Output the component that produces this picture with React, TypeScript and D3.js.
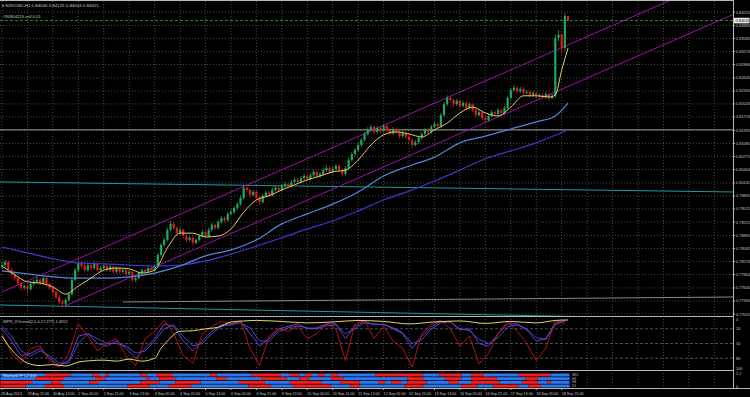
import React from 'react';
import * as d3 from 'd3';

// NZDUSD H1 chart (MetaTrader look), candles drawn as 2-hour bars
const W = 750;
const H = 397;
const AXIS_X = 733;

const firstOpen = 0.7815;
const closes = [
  0.7819, 0.7826, 0.7807, 0.7798, 0.7788, 0.7776, 0.7765, 0.7769, 0.7762, 0.7774,
  0.7779, 0.7784, 0.7776, 0.7788, 0.7774, 0.7765, 0.7755, 0.7743, 0.7731, 0.7727,
  0.7736, 0.775, 0.7784, 0.7807, 0.7824, 0.7817, 0.7807, 0.7819, 0.7812, 0.7822,
  0.7807, 0.7812, 0.7817, 0.7807, 0.7815, 0.7803, 0.7812, 0.7803, 0.7807, 0.7798,
  0.7803, 0.7784, 0.7788, 0.78, 0.7807, 0.7803, 0.7812, 0.7807, 0.7817, 0.7843,
  0.7867, 0.7879, 0.7903, 0.7917, 0.7907, 0.7895, 0.7903, 0.7888, 0.7879, 0.7884,
  0.7872, 0.7879, 0.7888, 0.7898, 0.7888, 0.7903, 0.7915, 0.7907, 0.7922, 0.7931,
  0.7926, 0.7941, 0.7945, 0.7955, 0.7964, 0.7979, 0.8003, 0.7998, 0.7986, 0.7993,
  0.7979, 0.7969, 0.7984, 0.7991, 0.7986, 0.7998, 0.8003, 0.7998, 0.8007, 0.8012,
  0.8007, 0.8017, 0.8022, 0.8017, 0.8026, 0.8031, 0.8024, 0.8033, 0.8041, 0.8031,
  0.8036, 0.8045, 0.805, 0.8041, 0.8048, 0.8055, 0.8045, 0.8036, 0.805, 0.8069,
  0.8083, 0.8093, 0.8105, 0.8117, 0.8131, 0.8141, 0.8148, 0.8136, 0.8145, 0.8138,
  0.815, 0.8141, 0.8133, 0.8143, 0.8136, 0.8126, 0.8133, 0.8124, 0.8117, 0.8105,
  0.8112, 0.8122, 0.8131, 0.8141, 0.8136, 0.8148, 0.8155, 0.815, 0.8176, 0.8202,
  0.8217, 0.8212, 0.8202, 0.821, 0.8198, 0.8205, 0.8193, 0.8202, 0.8188, 0.8176,
  0.8183, 0.8169, 0.8164, 0.8174, 0.8183, 0.8179, 0.8188, 0.8181, 0.8193, 0.8217,
  0.8236, 0.8241, 0.8233, 0.8238, 0.8229, 0.8231, 0.8224, 0.8229, 0.8222, 0.8224,
  0.8219, 0.8226, 0.8217, 0.8222, 0.836, 0.8367, 0.8336, 0.8412, 0.8402,
];
const highs = [
  0.7826, 0.7831, 0.7829, 0.7812, 0.7803, 0.7792, 0.778, 0.7774, 0.7772, 0.7779,
  0.7784, 0.779, 0.7788, 0.7793, 0.7791, 0.7778, 0.7769, 0.776, 0.7747, 0.7736,
  0.7741, 0.7755, 0.7789, 0.7812, 0.783, 0.7829, 0.7821, 0.7824, 0.7823, 0.7828,
  0.7825, 0.7817, 0.7822, 0.782, 0.7819, 0.7818, 0.7816, 0.7815, 0.7812, 0.781,
  0.7808, 0.7806, 0.7794, 0.7804, 0.7811, 0.7811, 0.7816, 0.7815, 0.7821, 0.7848,
  0.7872, 0.7885, 0.7908, 0.7924, 0.7921, 0.7911, 0.7908, 0.7906, 0.7892, 0.7889,
  0.7887, 0.7883, 0.7893, 0.7903, 0.7901, 0.7908, 0.792, 0.7918, 0.7927, 0.7936,
  0.7935, 0.7946, 0.7951, 0.796, 0.7969, 0.7985, 0.801, 0.8008, 0.8001, 0.7998,
  0.7996, 0.7983, 0.7988, 0.7996, 0.7995, 0.8003, 0.8008, 0.8007, 0.8012, 0.8017,
  0.8016, 0.8022, 0.8028, 0.8026, 0.8031, 0.8036, 0.8035, 0.8038, 0.8046, 0.8044,
  0.8041, 0.805, 0.8056, 0.8054, 0.8053, 0.806, 0.8058, 0.8049, 0.8055, 0.8074,
  0.8088, 0.8098, 0.8111, 0.8122, 0.8136, 0.8147, 0.8154, 0.8152, 0.815, 0.8149,
  0.8155, 0.8154, 0.8145, 0.8148, 0.8147, 0.814, 0.8138, 0.8137, 0.8128, 0.8121,
  0.8117, 0.8127, 0.8136, 0.8146, 0.8145, 0.8153, 0.816, 0.8159, 0.8181, 0.8208,
  0.8223, 0.8221, 0.8216, 0.8215, 0.8213, 0.821, 0.8208, 0.8207, 0.8205, 0.8192,
  0.8188, 0.8186, 0.8173, 0.8179, 0.8188, 0.8187, 0.8193, 0.8192, 0.8198, 0.8222,
  0.8241, 0.8247, 0.8245, 0.8243, 0.8242, 0.8236, 0.8235, 0.8234, 0.8233, 0.8229,
  0.8228, 0.8231, 0.823, 0.8227, 0.8368, 0.8378, 0.8372, 0.8418, 0.8413,
];
const lows = [
  0.781, 0.7814, 0.7801, 0.7793, 0.7781, 0.7771, 0.7758, 0.776, 0.7755, 0.7758,
  0.7769, 0.7775, 0.7771, 0.7772, 0.7768, 0.776, 0.7749, 0.7738, 0.7725, 0.7719,
  0.7722, 0.7732, 0.7746, 0.778, 0.7802, 0.7811, 0.7801, 0.7803, 0.7806, 0.7808,
  0.7802, 0.7802, 0.7808, 0.7803, 0.7803, 0.7798, 0.7799, 0.7797, 0.7799, 0.7792,
  0.7794, 0.7778, 0.7779, 0.7785, 0.7796, 0.7798, 0.78, 0.7803, 0.7804, 0.7814,
  0.7839, 0.7862, 0.7875, 0.7899, 0.7902, 0.789, 0.7891, 0.7883, 0.7873, 0.7875,
  0.7866, 0.7868, 0.7875, 0.7884, 0.7883, 0.7885, 0.7899, 0.7902, 0.7904, 0.7918,
  0.792, 0.7922, 0.7937, 0.7941, 0.795, 0.796, 0.7975, 0.7992, 0.798, 0.7982,
  0.7973, 0.7962, 0.7965, 0.798, 0.7981, 0.7982, 0.7994, 0.7993, 0.7994, 0.8003,
  0.8002, 0.8003, 0.8013, 0.8012, 0.8013, 0.8021, 0.8019, 0.802, 0.8029, 0.8026,
  0.8027, 0.8032, 0.8041, 0.8036, 0.8037, 0.8044, 0.804, 0.803, 0.8032, 0.8046,
  0.8065, 0.8079, 0.8089, 0.8101, 0.8113, 0.8127, 0.8137, 0.8131, 0.8132, 0.8133,
  0.8134, 0.8136, 0.8128, 0.8129, 0.8131, 0.812, 0.8122, 0.8119, 0.8111, 0.8097,
  0.8101, 0.8108, 0.8118, 0.8127, 0.8131, 0.8132, 0.8144, 0.8145, 0.8146, 0.8172,
  0.8198, 0.8206, 0.8197, 0.8198, 0.8192, 0.8194, 0.8188, 0.8189, 0.8183, 0.817,
  0.8172, 0.8163, 0.8158, 0.816, 0.817, 0.8174, 0.8175, 0.8176, 0.8177, 0.8189,
  0.8213, 0.8231, 0.8228, 0.8229, 0.8224, 0.8225, 0.8219, 0.822, 0.8217, 0.8218,
  0.8214, 0.8215, 0.8212, 0.8213, 0.8216, 0.8352, 0.8322, 0.833, 0.8398,
];

// moving averages: [candle index, price]
const maFast: [number, number][] = [
  [0, 0.7817], [4, 0.7796], [8, 0.7779], [12, 0.7776], [16, 0.7767], [20, 0.775], [24, 0.7769],
  [28, 0.7788], [32, 0.7807], [36, 0.7812], [40, 0.781], [44, 0.78], [48, 0.7807], [52, 0.786],
  [56, 0.7895], [60, 0.7895], [64, 0.7886], [68, 0.7888], [72, 0.7905], [76, 0.7945], [80, 0.7974],
  [84, 0.7984], [88, 0.7998], [92, 0.801], [96, 0.8022], [100, 0.8031], [104, 0.8041], [108, 0.8045],
  [112, 0.8069], [116, 0.8105], [120, 0.8129], [124, 0.8136], [128, 0.8131], [132, 0.8124],
  [136, 0.8141], [140, 0.8157], [144, 0.8181], [148, 0.8195], [152, 0.8181], [156, 0.8174],
  [160, 0.8195], [164, 0.8222], [168, 0.8222], [172, 0.8219], [174, 0.8224], [176, 0.8283], [178, 0.8336],
];
const maMid: [number, number][] = [
  [0, 0.7805], [8, 0.7798], [16, 0.7791], [24, 0.7788], [32, 0.7788], [40, 0.7791], [48, 0.78],
  [56, 0.7817], [64, 0.7841], [72, 0.7855], [80, 0.7879], [88, 0.7917], [96, 0.7941], [104, 0.7964],
  [112, 0.7993], [120, 0.8031], [128, 0.8055], [136, 0.8076], [144, 0.811], [152, 0.8126],
  [160, 0.8143], [168, 0.816], [174, 0.8174], [178, 0.8205],
];
const maSlow: [number, number][] = [
  [0, 0.7862], [8, 0.7848], [16, 0.7834], [24, 0.7824], [32, 0.7822], [40, 0.7819], [48, 0.7817],
  [56, 0.7819], [64, 0.7829], [72, 0.7845], [80, 0.7864], [88, 0.7884], [96, 0.7905], [104, 0.7924],
  [112, 0.7948], [120, 0.7974], [128, 0.7995], [136, 0.8019], [144, 0.8045], [152, 0.8072],
  [160, 0.8091], [168, 0.811], [178, 0.8141],
];

// drawn objects
const channelUpper: [number, number][] = [[0, 0.7755], [230, 0.8515]];
const channelLower: [number, number][] = [[19, 0.7719], [230, 0.8416]];
const tealTrend: [number, number][] = [[-1, 0.8017], [230, 0.7993]];
const cyanLow: [number, number][] = [[-1, 0.7724], [230, 0.7689]];
const grayLow: [number, number][] = [[38, 0.7731], [230, 0.7743]];
const grayLevel = 0.8141;
const orderLevel = 0.84011;

const priceLabels = [
  '0.84215', '0.83895', '0.83585', '0.83276', '0.82966', '0.82645', '0.82335', '0.82026',
  '0.81716', '0.81395', '0.81085', '0.80775', '0.80464', '0.80145', '0.79835', '0.79525',
  '0.79215', '0.78895', '0.78585', '0.78276', '0.77964', '0.77645', '0.77335', '0.77025',
];
const timeLabels = [
  '29 Aug 2013', '29 Aug 21:00', '30 Aug 13:00', '2 Sep 05:00', '2 Sep 21:00', '3 Sep 13:00',
  '4 Sep 05:00', '4 Sep 21:00', '5 Sep 13:00', '6 Sep 05:00', '6 Sep 21:00', '9 Sep 13:00',
  '10 Sep 05:00', '10 Sep 21:00', '11 Sep 13:00', '12 Sep 05:00', '12 Sep 21:00', '13 Sep 13:00',
  '16 Sep 05:00', '16 Sep 21:00', '17 Sep 13:00', '18 Sep 05:00', '18 Sep 21:00',
];

// oscillator panel (0 top .. 100 bottom), one value every 3 candles
const OSC_STEP = 3;
const oscRed = [30, 70, 90, 60, 55, 85, 98, 70, 10, 35, 65, 50, 40, 75, 95, 40, 25, 3, 30, 75,
  90, 30, 15, 5, 10, 4, 60, 95, 35, 20, 25, 15, 40, 30, 10, 20, 85, 10, 3, 40,
  15, 45, 60, 98, 30, 10, 3, 20, 55, 35, 92, 70, 30, 5, 25, 50, 85, 60, 3, 10];
const oscPurple = [20, 45, 75, 70, 60, 80, 95, 85, 35, 30, 50, 55, 45, 60, 80, 60, 40, 10, 15, 45,
  65, 45, 25, 12, 10, 5, 30, 55, 40, 20, 15, 10, 20, 18, 10, 10, 40, 15, 5, 12,
  10, 20, 30, 60, 35, 15, 5, 6, 22, 20, 50, 55, 30, 10, 10, 22, 45, 40, 8, 4];
const oscBlue = [15, 35, 65, 75, 65, 75, 90, 90, 50, 30, 40, 50, 50, 55, 70, 65, 45, 20, 12, 35,
  55, 50, 30, 15, 12, 8, 18, 45, 45, 25, 18, 14, 18, 20, 14, 12, 30, 20, 8, 10,
  12, 18, 28, 50, 42, 20, 8, 6, 20, 24, 42, 50, 38, 16, 12, 20, 38, 42, 12, 4];
const oscYellow: [number, number][] = [
  [0, 35], [4, 70], [8, 90], [12, 95], [16, 93], [20, 96], [24, 88], [28, 85], [32, 84], [36, 86],
  [40, 82], [44, 86], [48, 80], [50, 60], [52, 45], [56, 25], [60, 24], [64, 20], [68, 17], [72, 6],
  [76, 4], [80, 3], [88, 5], [96, 8], [104, 6], [112, 3], [120, 5], [128, 10], [136, 6], [144, 4],
  [152, 9], [160, 5], [168, 8], [174, 3], [178, 2],
];
const oscLevels = [20, 50, 80];

// multi-timeframe bars panel: runs of [colour, candles]
const mtfRows: [string, number][][] = [
  [['b', 14], ['r', 8], ['b', 7], ['r', 2], ['b', 2], ['r', 1], ['b', 10], ['r', 2], ['b', 3], ['r', 5],
    ['b', 12], ['r', 2], ['b', 11], ['r', 9], ['b', 3], ['r', 3], ['b', 2], ['r', 2], ['b', 2], ['r', 2],
    ['b', 2], ['r', 2], ['b', 12], ['r', 15], ['b', 5], ['r', 7], ['b', 3], ['r', 4], ['b', 11], ['r', 10], ['b', 6]],
  [['b', 11], ['r', 9], ['b', 10], ['r', 3], ['b', 13], ['r', 1], ['b', 3], ['r', 5], ['b', 13], ['r', 3],
    ['b', 11], ['r', 8], ['b', 4], ['r', 3], ['b', 7], ['r', 4], ['b', 20], ['r', 5], ['b', 7], ['r', 5],
    ['b', 3], ['r', 8], ['b', 9], ['r', 4], ['b', 10]],
  [['r', 10], ['b', 6], ['r', 3], ['b', 9], ['r', 3], ['b', 13], ['r', 6], ['b', 5], ['r', 8], ['b', 12],
    ['r', 8], ['b', 8], ['r', 10], ['b', 6], ['r', 6], ['b', 6], ['r', 2], ['b', 2], ['r', 3], ['b', 2],
    ['r', 6], ['b', 7], ['r', 3], ['b', 4], ['r', 9], ['b', 7], ['r', 5], ['b', 3], ['r', 1], ['b', 6]],
  [['r', 8], ['b', 6], ['r', 6], ['b', 20], ['r', 7], ['b', 6], ['r', 7], ['b', 18], ['r', 7], ['b', 7],
    ['r', 12], ['b', 6], ['r', 3], ['b', 14], ['r', 6], ['b', 12], ['r', 5], ['b', 5], ['r', 8], ['b', 3],
    ['r', 4], ['b', 9]],
];
const mtfNames = ['M15', 'H1', 'H4', 'D1'];

const BULL = '#1fa860';
const BEAR = '#e01b1b';
const GRID = '#5a5a5a';
const TXT = '#c8c8c8';
const FONT = 'Liberation Sans, Arial, sans-serif';

const App = () => {
  const x = d3.scaleLinear().domain([0, 230]).range([2, 2 + 230 * 3.18]);
  const yP = d3.scaleLinear().domain([0.77025, 0.84215]).range([314, 12]);
  const yO = d3.scaleLinear().domain([0, 100]).range([319, 368]);
  const rowY = d3.scaleBand<number>().domain([0, 1, 2, 3]).range([373.5, 387.5]).paddingInner(0.2);

  const priceLine = d3.line<[number, number]>().x((d) => x(d[0])).y((d) => yP(d[1])).curve(d3.curveMonotoneX);
  const straight = d3.line<[number, number]>().x((d) => x(d[0])).y((d) => yP(d[1]));
  const oscSmooth = d3.line<[number, number]>().x((d) => x(d[0])).y((d) => yO(d[1])).curve(d3.curveMonotoneX);
  const oscJagged = d3.line<[number, number]>().x((d) => x(d[0])).y((d) => yO(d[1]));
  const oscSeries = (vals: number[]) => oscJagged(vals.map((v, k) => [k * OSC_STEP, v] as [number, number]));

  const gridIdx = d3.range(0, 29).map((k) => k * 8);

  return (
    <svg width={W} height={H} style={{ position: 'absolute', left: 0, top: 0, display: 'block', background: '#000' }}>
      <defs>
        <clipPath id="mainClip"><rect x={0} y={1} width={AXIS_X} height={315} /></clipPath>
        <clipPath id="oscClip"><rect x={0} y={317} width={AXIS_X} height={53} /></clipPath>
      </defs>
      <rect width={W} height={H} fill="#000" />

      {/* grid */}
      {priceLabels.map((p) => (
        <line key={p} x1={0} x2={AXIS_X} y1={yP(+p)} y2={yP(+p)} stroke={GRID} strokeDasharray="1,2" strokeWidth={0.8} />
      ))}
      {gridIdx.map((i) => (
        <line key={i} x1={x(i)} x2={x(i)} y1={1} y2={388} stroke={GRID} strokeDasharray="1,2" strokeWidth={0.8} />
      ))}

      <g clipPath="url(#mainClip)">
        <line x1={0} x2={AXIS_X} y1={yP(grayLevel)} y2={yP(grayLevel)} stroke="#a8b0b0" strokeWidth={0.9} />
        <path d={straight(tealTrend) || ''} stroke="#1e9a9a" strokeWidth={1} fill="none" />
        <path d={straight(cyanLow) || ''} stroke="#1e9a9a" strokeWidth={1} fill="none" />
        <path d={straight(grayLow) || ''} stroke="#8a8a8a" strokeWidth={1} fill="none" />
        <path d={straight(channelUpper) || ''} stroke="#9a12a8" strokeWidth={1} fill="none" />
        <path d={straight(channelLower) || ''} stroke="#9a12a8" strokeWidth={1} fill="none" />

        {closes.map((c, i) => {
          const o = i === 0 ? firstOpen : closes[i - 1];
          const col = c >= o ? BULL : BEAR;
          const cx = x(i);
          const top = yP(Math.max(o, c));
          const bot = yP(Math.min(o, c));
          return (
            <g key={i}>
              <line x1={cx} x2={cx} y1={yP(highs[i])} y2={yP(lows[i])} stroke={col} strokeWidth={0.8} />
              <rect x={cx - 1.1} width={2.2} y={top} height={Math.max(0.8, bot - top)} fill={col} />
            </g>
          );
        })}

        <path d={priceLine(maSlow) || ''} stroke="#3f35c8" strokeWidth={1.2} fill="none" />
        <path d={priceLine(maMid) || ''} stroke="#4f86d8" strokeWidth={1.2} fill="none" />
        <path d={priceLine(maFast) || ''} stroke="#e2cc62" strokeWidth={1} fill="none" />

        <line x1={0} x2={AXIS_X} y1={yP(orderLevel)} y2={yP(orderLevel)} stroke="#1fa020" strokeDasharray="3,2" strokeWidth={0.9} />
      </g>

      <text x={2} y={7} fill={TXT} fontFamily={FONT} fontSize={4.4}>▾ NZDUSD,H1  0.84040 0.84125 0.84004 0.84021</text>
      <text x={3} y={18} fill={TXT} fontFamily={FONT} fontSize={4.2}>#90904215 sell 0.01</text>

      {/* oscillator panel */}
      <line x1={0} x2={AXIS_X} y1={316.5} y2={316.5} stroke="#b8b8b8" strokeWidth={1} />
      {oscLevels.map((l) => (
        <line key={l} x1={0} x2={AXIS_X} y1={yO(l)} y2={yO(l)} stroke="#707070" strokeDasharray="3,2" strokeWidth={0.7} />
      ))}
      <g clipPath="url(#oscClip)">
        <path d={oscSeries(oscBlue) || ''} stroke="#3a58e8" strokeWidth={0.9} fill="none" />
        <path d={oscSeries(oscPurple) || ''} stroke="#8a3ad0" strokeWidth={0.9} fill="none" />
        <path d={oscSeries(oscRed) || ''} stroke="#c41414" strokeWidth={0.9} fill="none" />
        <path d={oscSmooth(oscYellow) || ''} stroke="#e6d46a" strokeWidth={1} fill="none" />
      </g>
      <text x={3} y={322.5} fill={TXT} fontFamily={FONT} fontSize={4}>WPR_VOtrend(2,0,0,17,277) 1.4952</text>
      <line x1={0} x2={AXIS_X} y1={370.5} y2={370.5} stroke="#b8b8b8" strokeWidth={1} />

      {/* multi-timeframe bars */}
      {mtfRows.map((runs, r) => {
        let start = 0;
        return (
          <g key={r}>
            {runs.map(([c, n], k) => {
              const x0 = x(start) - 1.6;
              const w = n * 3.18;
              start += n;
              return <rect key={k} x={x0} y={rowY(r)} width={w} height={rowY.bandwidth()} fill={c === 'r' ? '#f01e1e' : '#2a78f0'} />;
            })}
            <text x={x(start) + 1} y={(rowY(r) || 0) + 2.6} fill={TXT} fontFamily={FONT} fontSize={3}>{mtfNames[r]}</text>
          </g>
        );
      })}
      <text x={3} y={376.5} fill="#f0f0f0" fontFamily={FONT} fontSize={3.4}>StochasticTF 1.2 (0,0)</text>

      {/* price axis */}
      <line x1={AXIS_X + 0.5} x2={AXIS_X + 0.5} y1={0} y2={389} stroke="#b8b8b8" strokeWidth={1} />
      <line x1={0} x2={W} y1={388.5} y2={388.5} stroke="#b8b8b8" strokeWidth={1} />
      <line x1={0} x2={AXIS_X} y1={0.5} y2={0.5} stroke="#b8b8b8" strokeWidth={1} />
      {priceLabels.map((p) => (
        <g key={p}>
          <line x1={AXIS_X} x2={AXIS_X + 2} y1={yP(+p)} y2={yP(+p)} stroke="#b8b8b8" />
          <text x={AXIS_X + 3} y={yP(+p) + 1.5} fill={TXT} fontFamily={FONT} fontSize={3.9}>{p}</text>
        </g>
      ))}
      <rect x={AXIS_X + 1} y={yP(orderLevel) - 2.8} width={15.5} height={5.6} fill="#e8e8e8" />
      <text x={AXIS_X + 2.5} y={yP(orderLevel) + 1.5} fill="#000" fontFamily={FONT} fontSize={3.9}>0.84011</text>
      {['0', '20', '50', '80', '100'].map((t) => (
        <text key={t} x={AXIS_X + 3} y={yO(+t) + 1.5} fill={TXT} fontFamily={FONT} fontSize={3.9}>{t}</text>
      ))}
      <text x={AXIS_X + 3} y={375} fill={TXT} fontFamily={FONT} fontSize={3.9}>1.2</text>
      <text x={AXIS_X + 3} y={388} fill={TXT} fontFamily={FONT} fontSize={3.9}>0</text>

      {/* time axis */}
      {timeLabels.map((t, k) => (
        <g key={t}>
          <line x1={x(k * 8)} x2={x(k * 8)} y1={388} y2={390} stroke="#b8b8b8" />
          <text x={k === 0 ? 1 : x(k * 8)} y={394.5} fill={TXT} fontFamily={FONT} fontSize={3.7}>{t}</text>
        </g>
      ))}
    </svg>
  );
};

export default App;
